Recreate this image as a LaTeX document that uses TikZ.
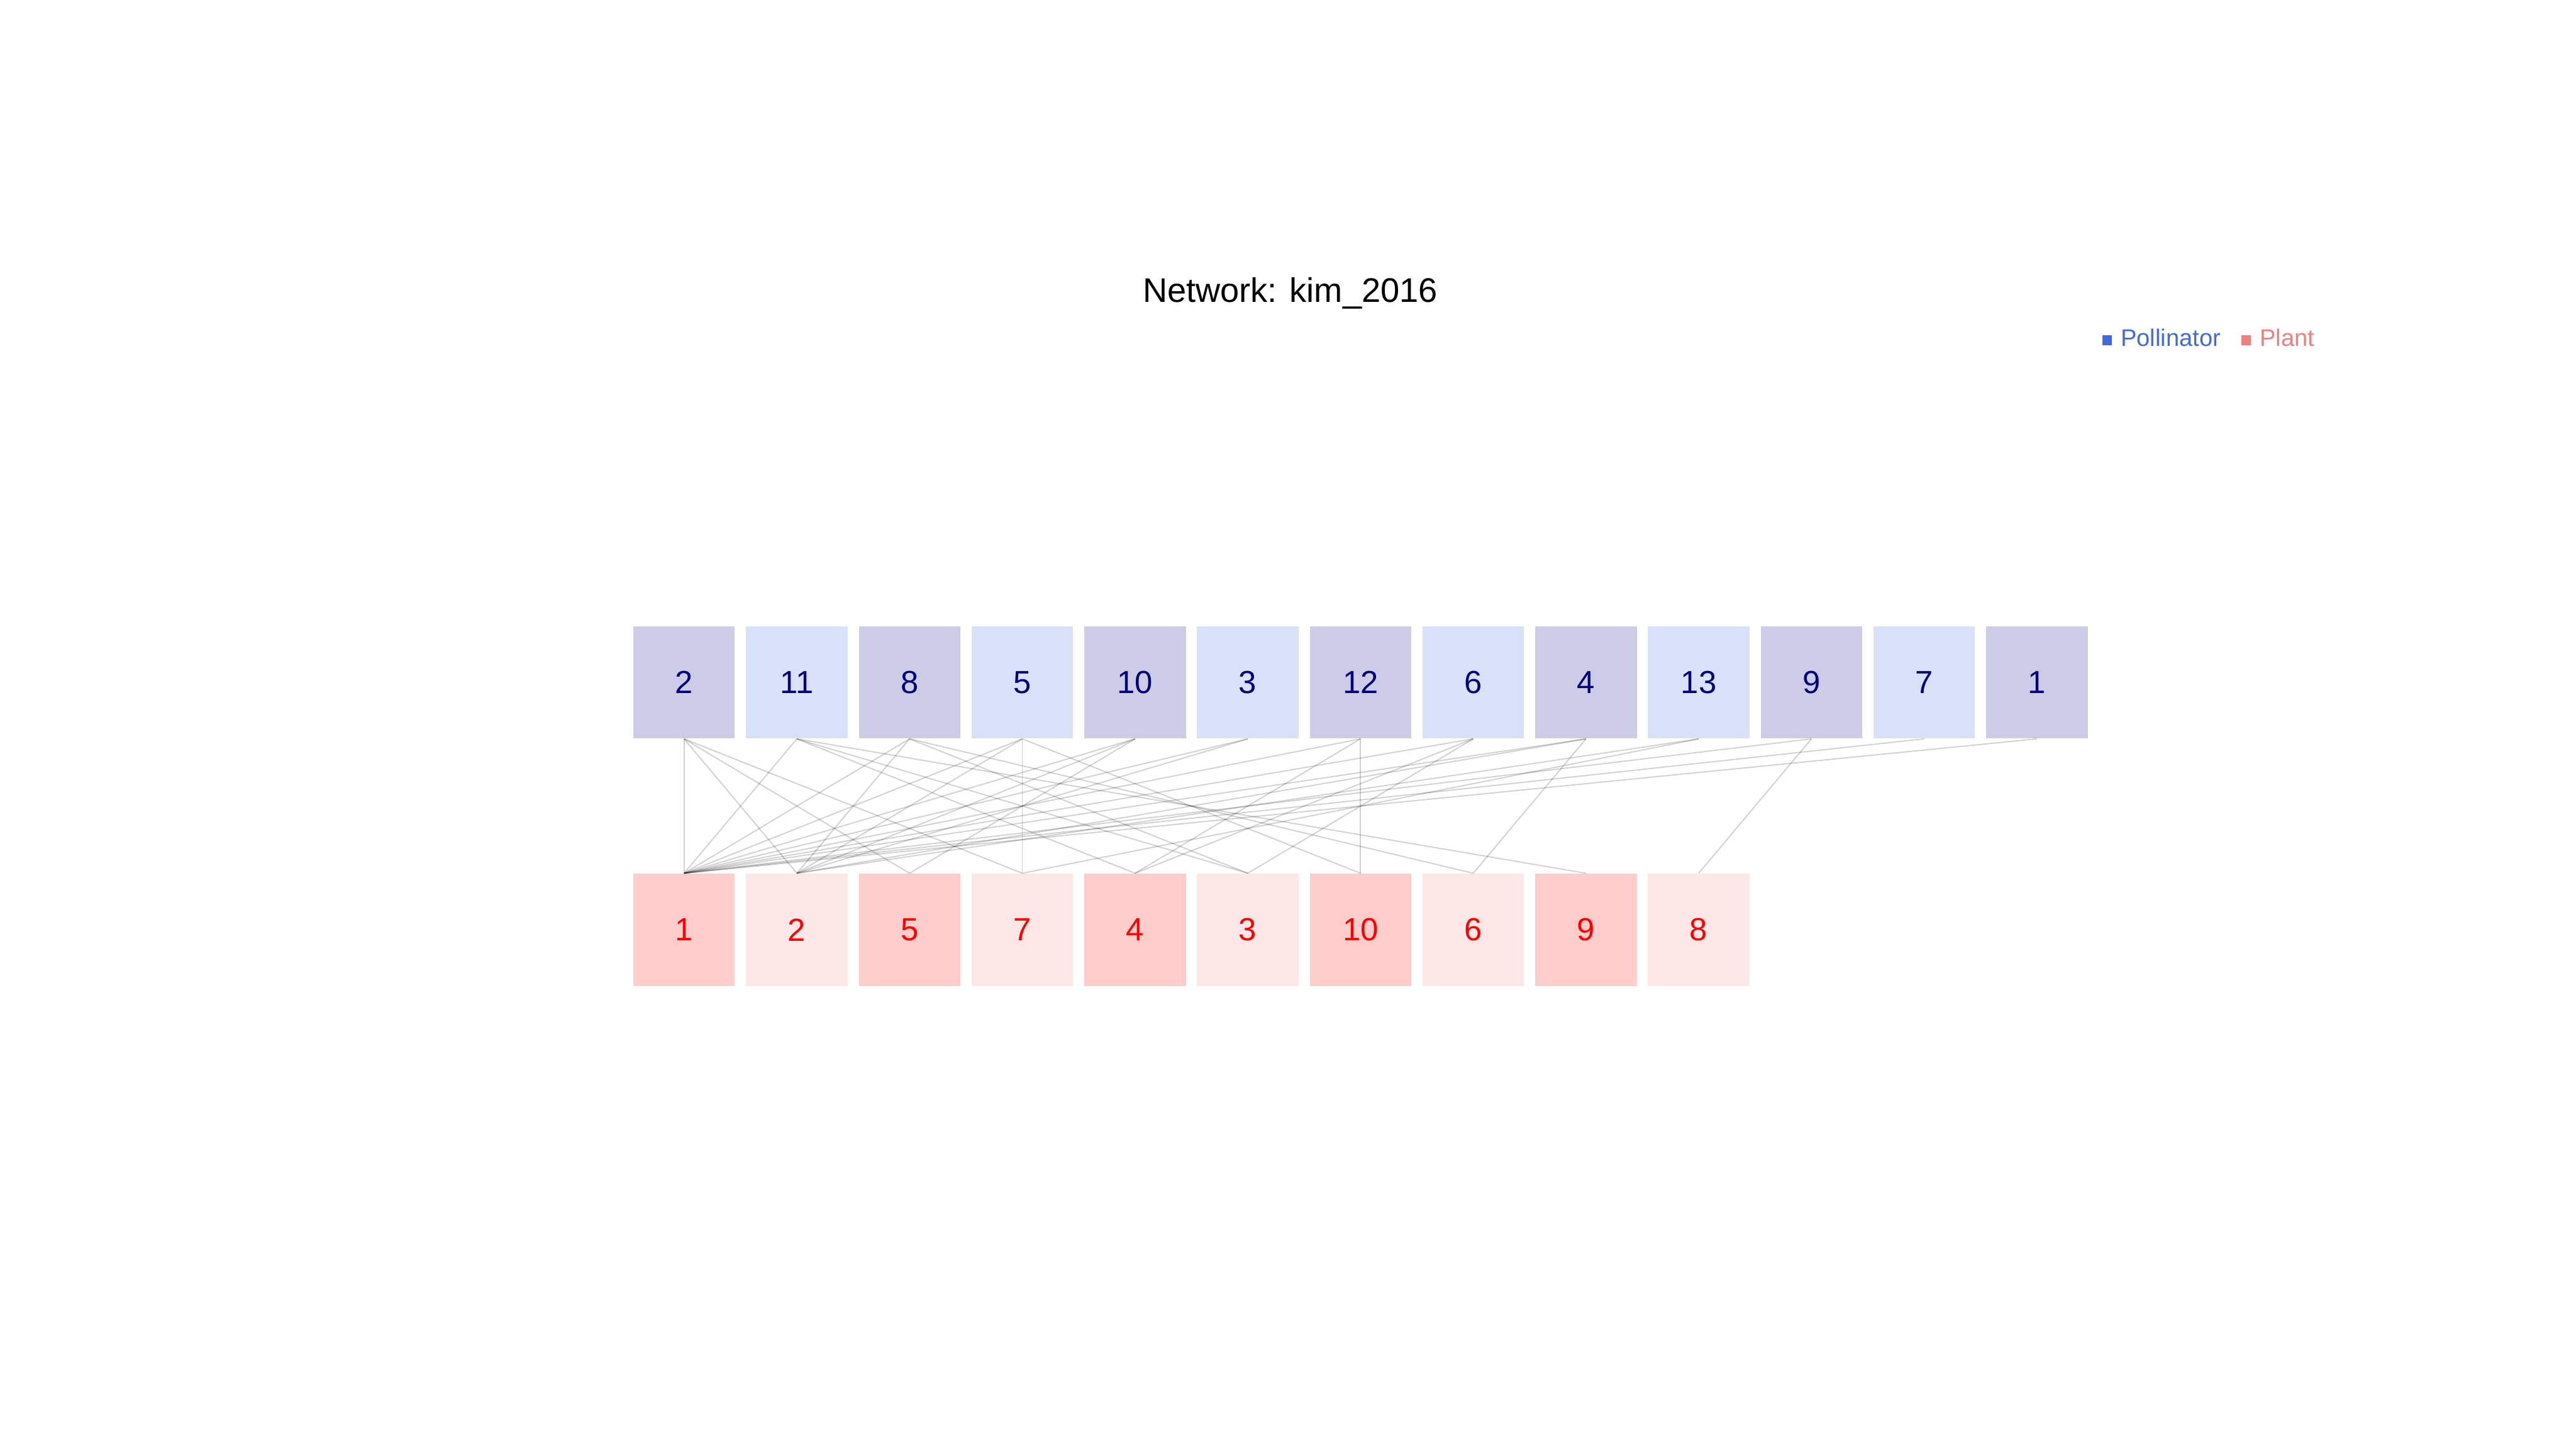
\documentclass[tikz,border=0pt]{standalone}
\usepackage{fontspec}
\setmainfont{Liberation Sans}
\usetikzlibrary{positioning}
\definecolor{navyc}{RGB}{0,0,128}
\definecolor{royalc}{RGB}{65,105,225}
\definecolor{redc}{RGB}{255,0,0}
\definecolor{coralc}{RGB}{240,128,128}

\begin{document}
\begin{tikzpicture}[
    polbox/.style={minimum width=1.655cm, minimum height=1.83cm, inner sep=0pt, text=navyc, font=\fontsize{14.8}{16}\selectfont},
    plabox/.style={minimum width=1.655cm, minimum height=1.83cm, inner sep=0pt, text=redc, font=\fontsize{14.8}{16}\selectfont},
    edge/.style={draw=black, opacity=0.18, line width=0.55pt}]
    \useasboundingbox (0,0) rectangle (42,23.62);

    \node[anchor=base, font=\fontsize{15.8}{18}\selectfont] (title) at (21.035,18.69) {Network: kim\_2016};

    % pollinators (top row)
    \foreach \lab/\shade [count=\i from 0] in {2/navyc,11/royalc,8/navyc,5/royalc,10/navyc,3/royalc,12/navyc,6/royalc,4/navyc,13/royalc,9/navyc,7/royalc,1/navyc}
        \node[polbox, fill=\shade!20] (pol\lab) at ({11.154+1.838*\i},12.495) {\lab};

    % plants (bottom row)
    \foreach \lab/\shade [count=\i from 0] in {1/redc,2/coralc,5/redc,7/coralc,4/redc,3/coralc,10/redc,6/coralc,9/redc,8/coralc}
        \node[plabox, fill=\shade!20] (pla\lab) at ({11.154+1.838*\i},8.46) {\lab};

    % interactions
    \foreach \a/\b in {2/1,2/2,2/5,2/7, 11/1,11/4,11/3,11/9, 8/1,8/2,8/3,8/6,
                       5/1,5/2,5/7,5/10, 10/1,10/2,10/5, 3/1,3/2, 12/1,12/4,12/10,
                       6/1,6/4,6/3, 4/1,4/2,4/6, 13/2,13/7, 9/1,9/8, 7/1, 1/1}
        \draw[edge] (pol\a.south) -- (pla\b.north);

    % legend
    \node[fill=royalc, minimum size=0.16cm, inner sep=0pt] (kpol) at (34.355,18.07) {};
    \node[right=0.13cm of kpol.east, anchor=base west, inner sep=0pt, text=royalc, font=\fontsize{11.1}{12}\selectfont, yshift=-0.09cm] (lpol) {Pollinator};
    \node[fill=coralc, minimum size=0.16cm, inner sep=0pt] (kpla) at (36.62,18.07) {};
    \node[right=0.13cm of kpla.east, anchor=base west, inner sep=0pt, text=coralc, font=\fontsize{11.1}{12}\selectfont, yshift=-0.09cm] (lpla) {Plant};
\end{tikzpicture}
\end{document}
